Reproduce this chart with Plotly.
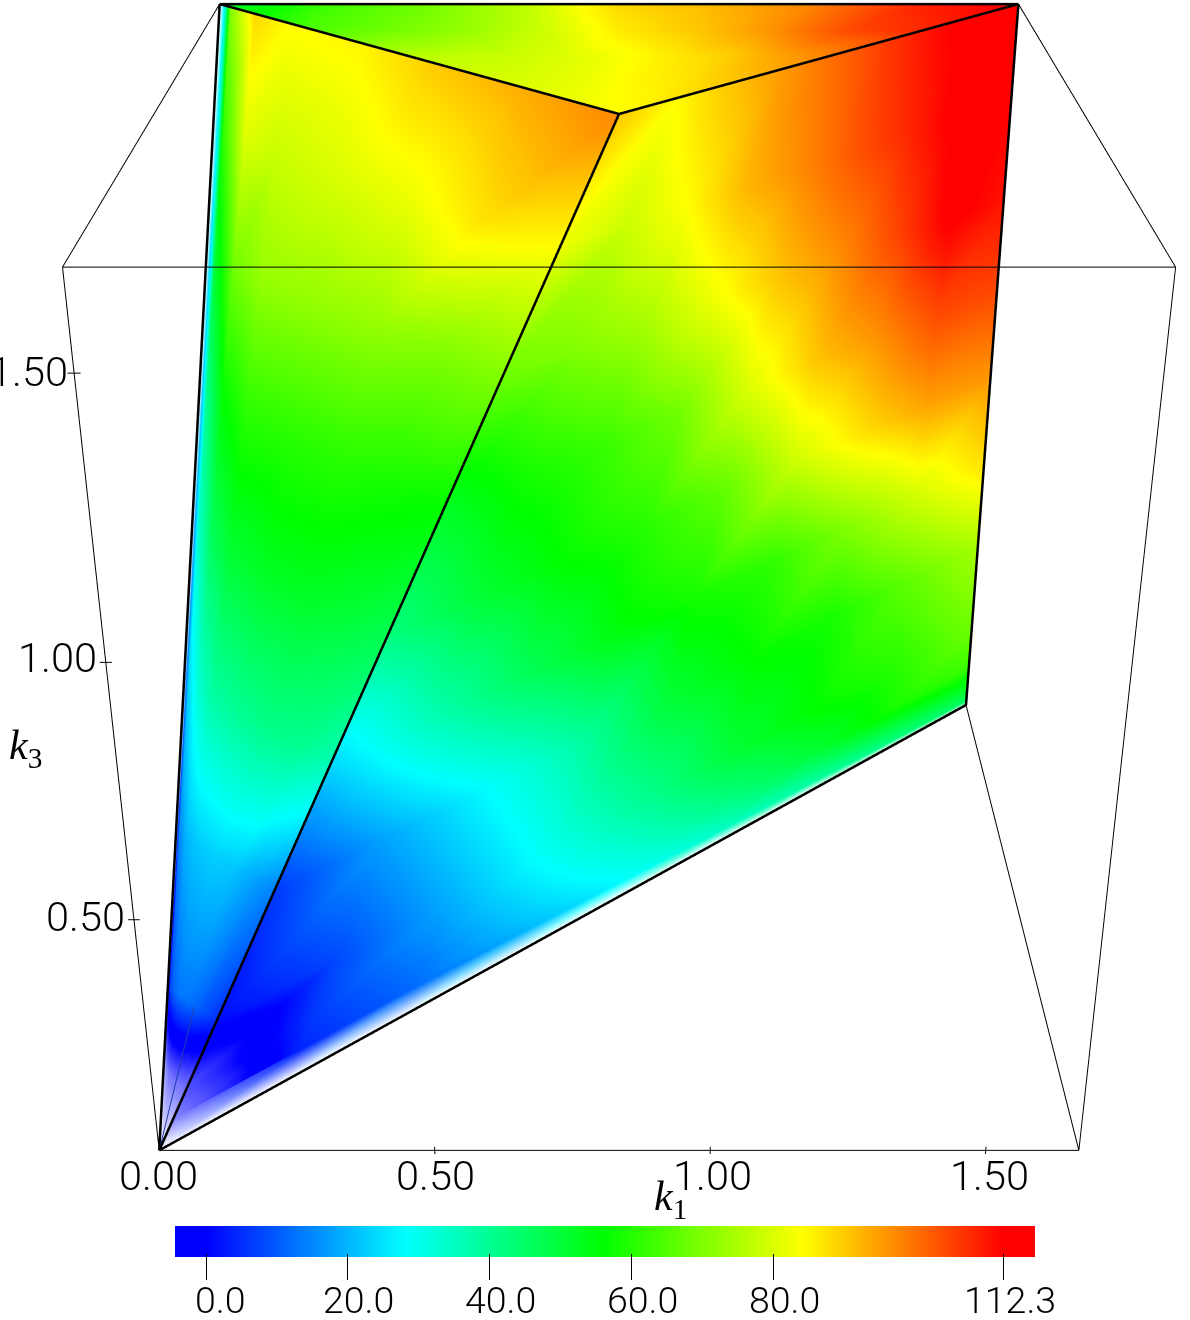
import numpy as np
import plotly.graph_objects as go

# axis ends and ticks (k units)
k_max = 1.669
k_ticks = [0.5, 1.0, 1.5]
k_tick_labels = ["0.00", "0.50", "1.00", "1.50"]

# colour bar
bar_range = [-4.37, 116.8]
bar_ticks = [0.0, 20.0, 40.0, 60.0, 80.0, 112.3]
bar_labels = ["0.0", "20.0", "40.0", "60.0", "80.0", "112.3"]

# face k1 = k2: rows follow k3/k_max, columns run from the O-M edge to the far edge
# the first row sits at right_fade, where the white rim along O-G ends
right_t = [0, 0.125, 0.25, 0.375, 0.5, 0.625, 0.75, 0.875, 1]
right_fade = [0.03, 0.03, 0.03, 0.025, 0.02, 0.015, 0.012, 0.008, 0.006]
right_w = [0.06, 0.125, 0.25, 0.375, 0.5, 0.625, 0.75, 0.875, 1]
right_values = [
    [-18, 4, 12, 20, 28, 34, 38, 42, 45],
    [-13, 6, 14, 24, 33, 42, 50, 58, 62],
    [1, 8, 19, 30, 40, 50, 56, 60, 68],
    [6, 18, 28, 38, 50, 56, 58, 66, 74],
    [24, 36, 46, 54, 58, 61, 70, 79, 87],
    [42, 50, 56, 60, 66, 78, 87, 94, 95],
    [52, 58, 62, 68, 80, 90, 96, 104, 104],
    [68, 70, 74, 82, 90, 96, 104, 113, 110],
    [82, 78, 84, 92, 97, 103, 108, 114, 112],
    [90, 84, 90, 95, 100, 105, 110, 114, 114],
]

# face k3 = k1 + k2: rows follow k3/k_max, columns run from the O-E edge to the O-M edge
left_w = [0, 0.06, 0.125, 0.25, 0.375, 0.5, 0.625, 0.75, 0.875, 1]
left_t = [0.012, 0.03, 0.1, 0.2, 0.4, 0.6, 0.8, 1]
left_values = [
    [-30, -30, -30, -30, -30, -30, -30, -30],
    [-24, -22, -19, -17, -16, -16, -16, -16],
    [-8, 7, 11, 13, 13, 11, 8, 5],
    [6, 15, 20, 22, 23, 22, 18, 14],
    [14, 24, 33, 38, 40, 41, 40, 36],
    [18, 33, 45, 50, 52, 52, 50, 47],
    [22, 40, 55, 60, 60, 60, 58, 56],
    [24, 50, 68, 72, 72, 72, 70, 70],
    [26, 60, 80, 78, 80, 82, 87, 84],
    [28, 70, 88, 84, 85, 90, 93, 97],
]

# top face k3 = k_max: rows run from M to the E-F edge, columns from E side to F side
top_r = [0, 0.25, 0.5, 0.75, 1]
top_t = [0, 0.125, 0.25, 0.375, 0.5, 0.625, 0.75, 0.875, 1]
top_values = [
    [84, 84, 84, 84, 84, 84, 84, 84, 84],
    [80, 80, 81, 82, 84, 85, 86, 88, 90],
    [76, 77, 78, 80, 83, 86, 89, 94, 98],
    [64, 68, 72, 78, 86, 90, 96, 104, 108],
    [50, 62, 68, 76, 88, 92, 98, 108, 113],
]

FONT = "Roboto"
W, H = 1190, 1320
FOCAL = 1.5934       # plotly's fixed 45 degree lens on a 1320 px scene, per 1e-3
EYE = 1.9
CENTER_X = 619
LINE_NUDGE = 0.003   # keeps edges in front of the faces they bound

# the view of the box: depth and height as linear functions of k2, k3 (per k_max)
DEPTH = (1.08925, 0.3536, -0.189)
HEIGHT = (1.25212, -0.23494, -1.01088)


def to_scene(u, v, w):
    """k1, k2, k3 (as fractions of k_max) -> scene coordinates for the fixed camera."""
    u, v, w = np.asarray(u, float), np.asarray(v, float), np.asarray(w, float)
    zm = (DEPTH[0] + DEPTH[1] * v + DEPTH[2] * w) * 1e-3
    yh = HEIGHT[0] + HEIGHT[1] * v + HEIGHT[2] * w
    return (u - 0.5) + (CENTER_X - W / 2) * zm, FOCAL * 1000 * zm - EYE, (H / 2) * zm - yh


colors = [
    [-30, "#ffffff"], [-5, "#0000ff"], [0, "#0000ff"], [28, "#00ffff"],
    [56, "#00ff00"], [84, "#ffff00"], [112.3, "#ff0000"], [116.8, "#ff0000"],
]
cmin, cmax = colors[0][0], colors[-1][0]
colorscale = [[(v - cmin) / (cmax - cmin), c] for v, c in colors]


def ramp(value):
    stops = [v for v, _ in colors]
    rgb = [[int(c[i:i + 2], 16) for _, c in colors] for i in (1, 3, 5)]
    return "rgb(%d,%d,%d)" % tuple(np.interp(value, stops, channel) for channel in rgb)


def triangles(rows, cols):
    i, j, k = [], [], []
    for r in range(rows - 1):
        for c in range(cols - 1):
            a = r * cols + c
            i += [a, a]
            j += [a + 1, a + cols + 1]
            k += [a + cols + 1, a + cols]
    return i, j, k


FLAT_LIGHT = dict(ambient=1, diffuse=0, specular=0, roughness=1, fresnel=0)


def face(u, v, w, values):
    i, j, k = triangles(*u.shape)
    x, y, z = to_scene(u.ravel(), v.ravel(), w.ravel())
    return go.Mesh3d(
        x=x, y=y, z=z, i=i, j=j, k=k,
        intensity=np.asarray(values, float).ravel(),
        colorscale=colorscale, cmin=cmin, cmax=cmax, showscale=False,
        flatshading=False, hoverinfo="skip", lighting=FLAT_LIGHT,
    )


def fringe(u, v, w, inner_values):
    """Narrow strip that fades a face's outermost values into the white page."""
    i, j, k = triangles(*u.shape)
    x, y, z = to_scene(u.ravel(), v.ravel(), w.ravel())
    shades = ["rgb(255,255,255)"] * len(inner_values) + [ramp(val) for val in inner_values]
    return go.Mesh3d(
        x=x, y=y, z=z, i=i, j=j, k=k, vertexcolor=shades,
        flatshading=False, hoverinfo="skip", lighting=FLAT_LIGHT,
    )


def lines(pairs, width, color="#000000"):
    xs, ys, zs = [], [], []
    for p, q in pairs:
        sx, sy, sz = to_scene(*zip(p, q))
        xs += list(sx) + [None]
        ys += list(sy - LINE_NUDGE) + [None]
        zs += list(sz) + [None]
    return go.Scatter3d(
        x=xs, y=ys, z=zs, mode="lines", hoverinfo="skip", showlegend=False,
        line=dict(color=color, width=width),
    )


fig = go.Figure()

T_r = np.tile(right_t, (len(right_w) + 1, 1))
W_r = np.vstack([right_fade] + [[w] * len(right_t) for w in right_w])
A_r = W_r / 2 + T_r * (1 - W_r / 2)
fig.add_trace(face(A_r, A_r, W_r, right_values))

W_l, T_l = np.meshgrid(left_w, left_t, indexing="ij")
fig.add_trace(face(T_l * W_l / 2, W_l - T_l * W_l / 2, W_l, left_values))

R_t, T_t = np.meshgrid(top_r, top_t, indexing="ij")
fig.add_trace(face(0.5 * (1 - R_t) + R_t * T_t, 0.5 * (1 - R_t) + R_t, np.ones_like(R_t), top_values))

# fades along the lower edge O-G and the left edge O-E
T_f = np.tile(right_t, (2, 1))
W_f = np.vstack([np.zeros(len(right_t)), right_fade])
A_f = W_f / 2 + T_f * (1 - W_f / 2)
fig.add_trace(fringe(A_f, A_f, W_f, right_values[0]))

T_e, W_e = np.meshgrid([0, left_t[0]], left_w, indexing="ij")
fig.add_trace(fringe(T_e * W_e / 2, W_e - T_e * W_e / 2, W_e, [row[0] for row in left_values]))

A, B, C, D = (0, 0, 0), (1, 0, 0), (0, 0, 1), (1, 0, 1)
E, F, G = (0, 1, 1), (1, 1, 1), (1, 1, 0)
M = (0.5, 0.5, 1)

box = [(A, B), (A, C), (B, D), (C, D), (C, E), (D, F), (B, G)]
for t in k_ticks:
    f = t / k_max
    box.append(((f, 0, -0.005), (f, 0, 0.005)))
    box.append(((-0.006, 0, f), (0.006, 0, f)))
fig.add_trace(lines(box, 2))
fig.add_trace(lines([(A, (0.0345, 0.0905, 0.125))], 2, "#1f3fa8"))
fig.add_trace(lines([(A, E), (A, M), (E, M), (M, F), (E, F), (F, G), (A, G)], 5))

# colour bar, on its own small axis
bar_values = np.linspace(bar_range[0], bar_range[1], 243)
fig.add_trace(go.Heatmap(
    x=bar_values, y=[0, 1], z=[bar_values, bar_values], zmin=cmin, zmax=cmax,
    colorscale=colorscale, showscale=False, zsmooth="best", hoverinfo="skip",
    xaxis="x", yaxis="y",
))


def label(text, x, y, size, xanchor="center", family=FONT):
    fig.add_annotation(
        text=text, x=x / W, y=1 - y / H, xref="paper", yref="paper", showarrow=False,
        xanchor=xanchor, yanchor="middle",
        font=dict(family=family, size=size, color="#000000", weight=300 if family == FONT else 400),
    )


for text, x in zip(k_tick_labels, [158.5, 435, 712, 989]):
    label(text, x, 1175.5, 41.5)
for text, x, y in zip(k_tick_labels[1:], [127, 99, 70], [916, 657, 372]):
    label(text, x, y, 41.5, "right")
for text, x in zip(bar_labels, [220, 358, 500, 642, 784, 1010]):
    label(text, x, 1300, 37.5)
label("<i>k</i><sub>1</sub>", 670, 1199, 42, family="Liberation Serif")
label("<i>k</i><sub>3</sub>", 25, 748, 42, family="Liberation Serif")

hidden = dict(visible=False, range=[-1, 1], autorange=False)
fig.update_layout(
    width=W, height=H, margin=dict(l=0, r=0, t=0, b=0),
    paper_bgcolor="white", plot_bgcolor="white", showlegend=False,
    scene=dict(
        domain=dict(x=[0, 1], y=[0, 1]),
        xaxis=hidden, yaxis=hidden, zaxis=hidden,
        aspectmode="manual", aspectratio=dict(x=2, y=2, z=2),
        camera=dict(
            eye=dict(x=0, y=-EYE, z=0), center=dict(x=0, y=0, z=0), up=dict(x=0, y=0, z=1),
            projection=dict(type="perspective"),
        ),
    ),
    xaxis=dict(
        domain=[175 / W, 1035 / W], range=bar_range, anchor="free", position=1 - 1253 / H,
        tickmode="array", tickvals=bar_ticks, ticktext=bar_labels, showticklabels=False,
        ticks="outside", ticklen=26, tickwidth=1, tickcolor="#000000",
        showgrid=False, zeroline=False, showline=False,
    ),
    yaxis=dict(
        domain=[1 - 1257 / H, 1 - 1226 / H], range=[0, 1], visible=False,
    ),
)

fig.write_html("out.html", config=dict(displayModeBar=False), post_script="document.body.style.margin='0';")
